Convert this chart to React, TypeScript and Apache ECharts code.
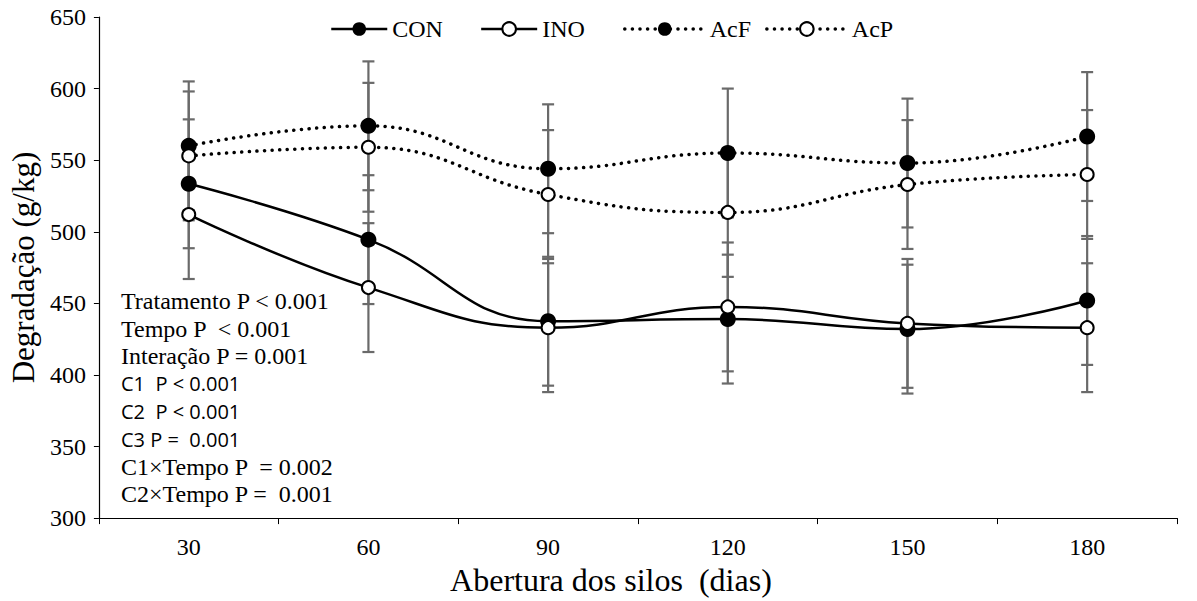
import React, { useEffect, useRef } from "react";
import * as echarts from "echarts";

const categories = ["30", "60", "90", "120", "150", "180"];
const conValues = [533.5, 494.5, 437.5, 439, 432, 452];
const inoValues = [512, 461, 433, 447.5, 436, 433];
const acfValues = [560, 574, 544, 555, 548, 566.5];
const acpValues = [553, 559, 526, 513.5, 533, 540];
const conErr = [45, 45, 45, 45, 45, 45];
const inoErr = [45, 45, 45, 45, 45, 45];
const acfErr = [45, 45, 45, 45, 45, 45];
const acpErr = [45, 45, 45, 45, 45, 45];
const yMin = 300;
const yMax = 650;
const yStep = 50;

const annotationLines = [
  { text: "Tratamento P < 0.001", sans: false },
  { text: "Tempo P  < 0.001", sans: false },
  { text: "Interação P = 0.001", sans: false },
  { text: "C1  P < 0.001", sans: true },
  { text: "C2  P < 0.001", sans: true },
  { text: "C3 P =  0.001", sans: true },
  { text: "C1×Tempo P  = 0.002", sans: false },
  { text: "C2×Tempo P =  0.001", sans: false },
];

const SERIF = "Liberation Serif";
const SANS = "Open Sans";

const dottedStyle = { color: "#000", width: 3.5, type: [0.1, 7.5], cap: "round" };
const solidStyle = { color: "#000", width: 2.5, type: "solid" };

function errData(vals: number[], errs: number[]) {
  return vals.map((v, i) => [i, v - errs[i], v + errs[i]]);
}

function errSeries(name: string, vals: number[], errs: number[]) {
  return {
    type: "custom",
    name: name + "_err",
    z: 1,
    silent: true,
    encode: { x: 0, y: [1, 2] },
    data: errData(vals, errs),
    renderItem: (params: any, api: any) => {
      const x = api.value(0);
      const lo = api.coord([x, api.value(1)]);
      const hi = api.coord([x, api.value(2)]);
      const hw = 6;
      const style = { stroke: "#6a6a6a", lineWidth: 2.2 };
      return {
        type: "group",
        children: [
          { type: "line", shape: { x1: lo[0], y1: lo[1], x2: hi[0], y2: hi[1] }, style },
          { type: "line", shape: { x1: lo[0] - hw, y1: lo[1], x2: lo[0] + hw, y2: lo[1] }, style },
          { type: "line", shape: { x1: hi[0] - hw, y1: hi[1], x2: hi[0] + hw, y2: hi[1] }, style },
        ],
      };
    },
  };
}

function lineSeries(name: string, vals: number[], filled: boolean, dotted: boolean) {
  return {
    type: "line",
    name,
    z: 3,
    data: vals,
    smooth: 0.45,
    symbol: "circle",
    symbolSize: filled ? 16 : 13,
    itemStyle: {
      color: filled ? "#000" : "#fff",
      borderColor: "#000",
      borderWidth: filled ? 0 : 2,
    },
    lineStyle: dotted ? dottedStyle : solidStyle,
  };
}

export default function App() {
  const ref = useRef<HTMLDivElement>(null);
  useEffect(() => {
    if (!ref.current) return;
    const chart = echarts.init(ref.current, undefined, { renderer: "svg" });
    const graphics = annotationLines.map((l, i) => ({
      type: "text",
      x: 121,
      y: 301 + i * 27.6,
      style: {
        text: l.text,
        fill: "#000",
        fontFamily: l.sans ? SANS : SERIF,
        fontSize: l.sans ? 20 : 24,
        verticalAlign: "middle",
        align: "left",
      },
    }));
    const legendText = { fontFamily: SERIF, fontSize: 24, color: "#000" };
    chart.setOption({
      animation: false,
      backgroundColor: "#fff",
      grid: { left: 97, right: 20, top: 17, bottom: 82, containLabel: false },
      legend: [
        {
          data: [
            { name: "CON", lineStyle: solidStyle },
            { name: "INO", lineStyle: solidStyle },
          ],
          top: 12,
          left: 325,
          itemWidth: 56,
          itemHeight: 17,
          itemGap: 37,
          selectedMode: false,
          textStyle: legendText,
        },
        {
          data: [
            { name: "AcF", lineStyle: dottedStyle },
            { name: "AcP", lineStyle: dottedStyle },
          ],
          top: 12,
          left: 618,
          itemWidth: 80,
          itemHeight: 17,
          itemGap: 14,
          selectedMode: false,
          textStyle: legendText,
        },
      ],
      xAxis: {
        type: "category",
        data: categories,
        boundaryGap: true,
        name: "Abertura dos silos  (dias)",
        nameLocation: "middle",
        nameGap: 42,
        nameTextStyle: { fontFamily: SERIF, fontSize: 32, color: "#000", padding: [0, 54, 0, 0] },
        axisLine: { show: true, lineStyle: { color: "#000", width: 1.2 } },
        axisTick: { show: true, length: 6, alignWithLabel: false, lineStyle: { color: "#000" } },
        axisLabel: { fontFamily: SERIF, fontSize: 24, color: "#000", margin: 17 },
        splitLine: { show: false },
      },
      yAxis: {
        type: "value",
        min: yMin,
        max: yMax,
        interval: yStep,
        name: "Degradação (g/kg)",
        nameLocation: "middle",
        nameGap: 57,
        nameTextStyle: { fontFamily: SERIF, fontSize: 31, color: "#000" },
        axisLine: { show: true, lineStyle: { color: "#000", width: 1.2 } },
        axisTick: { show: true, length: 5, lineStyle: { color: "#000" } },
        axisLabel: { fontFamily: SERIF, fontSize: 24, color: "#000", margin: 13 },
        splitLine: { show: false },
      },
      graphic: graphics,
      series: [
        errSeries("CON", conValues, conErr),
        errSeries("INO", inoValues, inoErr),
        errSeries("AcF", acfValues, acfErr),
        errSeries("AcP", acpValues, acpErr),
        lineSeries("CON", conValues, true, false),
        lineSeries("INO", inoValues, false, false),
        lineSeries("AcF", acfValues, true, true),
        lineSeries("AcP", acpValues, false, true),
      ],
    });
    return () => chart.dispose();
  }, []);
  return (
    <div
      ref={ref}
      style={{ position: "fixed", left: 0, top: 0, width: 1197, height: 601, background: "#fff" }}
    />
  );
}
